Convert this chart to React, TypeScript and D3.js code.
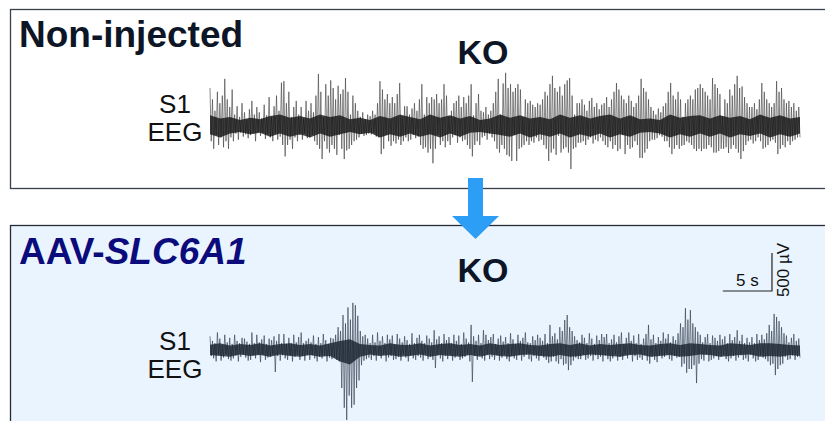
import React from 'react';
import * as d3 from 'd3';

// EEG traces, µV, sampled evenly over the shown recording (alternating peaks / troughs)
const topTrace = [
  500, -200, 350, -300, 200, -120, 450, -250, 300, -150,
  400, -280, 620, -200, 350, -300, 250, -150, 480, -200,
  150, -100, 260, -180, 120, -90, 300, -140, 180, -110,
  90, -160, 220, -120, 330, -100, 150, -200, 250, -80,
  180, -130, 100, -90, 280, -170, 140, -110, 380, -150,
  120, -200, 260, -100, 400, -180, 200, -140, 570, -250,
  590, -400, 300, -250, 450, -180, 120, -300, 250, -150,
  330, -200, 150, -120, 250, -180, 100, -100, 330, -160,
  200, -150, 300, -120, 180, -200, 400, -250, 685, -300,
  450, -435, 120, -200, 550, -300, 400, -350, 600, -250,
  500, -300, 350, -380, 530, -120, 420, -300, 480, -435,
  630, -320, 450, -300, 150, -250, 400, -200, 300, -180,
  200, -150, 120, -100, 180, -130, 90, -120, 150, -100,
  130, -110, 200, -90, 150, -140, 300, -150, 590, -370,
  480, -300, 350, -120, 420, -200, 300, -260, 380, -200,
  300, -230, 420, -180, 565, -250, 130, -200, 260, -150,
  260, -200, 150, -180, 230, -120, 300, -160, 200, -140,
  350, -250, 550, -300, 150, -280, 380, -350, 300, -300,
  380, -490, 350, -300, 420, -120, 300, -250, 350, -200,
  550, -280, 400, -200, 130, -250, 200, -150, 300, -120,
  330, -220, 400, -150, 250, -200, 380, -180, 300, -250,
  400, -300, 550, -400, 140, -250, 300, -200, 420, -250,
  200, -150, 180, -130, 250, -180, 150, -100, 200, -150,
  300, -200, 450, -300, 620, -350, 150, -250, 560, -300,
  700, -380, 500, -400, 550, -460, 450, -120, 500, -460,
  550, -300, 480, -280, 120, -250, 350, -200, 300, -250,
  330, -200, 280, -220, 250, -150, 300, -200, 280, -180,
  350, -250, 450, -300, 400, -460, 550, -350, 660, -300,
  500, -380, 450, -130, 520, -350, 400, -300, 550, -280,
  600, -350, 630, -565, 400, -300, 150, -280, 300, -220,
  300, -220, 350, -200, 280, -250, 200, -180, 330, -150,
  370, -230, 250, -180, 300, -200, 220, -150, 280, -200,
  300, -250, 380, -280, 250, -200, 350, -300, 450, -250,
  565, -330, 480, -300, 400, -120, 350, -370, 300, -250,
  400, -300, 330, -280, 250, -200, 300, -250, 400, -420,
  620, -420, 500, -350, 450, -300, 350, -200, 250, -180,
  200, -180, 150, -160, 230, -120, 180, -140, 260, -200,
  300, -200, 450, -280, 565, -370, 400, -300, 350, -250,
  450, -300, 350, -260, 120, -250, 300, -200, 350, -220,
  400, -250, 350, -300, 480, -330, 500, -300, 550, -330,
  500, -300, 450, -300, 400, -250, 350, -280, 630, -350,
  550, -350, 500, -330, 420, -300, 130, -300, 350, -280,
  300, -355, 480, -300, 400, -250, 550, -300, 660, -350,
  500, -435, 520, -330, 380, -250, 300, -200, 250, -180,
  250, -230, 300, -200, 220, -150, 350, -200, 565, -300,
  450, -280, 350, -250, 300, -200, 250, -180, 300, -220,
  590, -370, 450, -300, 500, -250, 350, -280, 300, -200,
  330, -250, 250, -200, 300, -180, 200, -150, 250, -150,
];

const bottomTrace = [
  180, -80, 120, -110, 90, -150, 230, -60, 150, -140,
  70, -100, 200, -60, 100, -120, 160, -140, 80, -110,
  200, -70, 120, -150, 90, -90, 160, -60, 150, -100,
  110, -140, 80, -130, 230, -70, 90, -110, 200, -60,
  100, -160, 140, -60, 190, -130, 80, -100, 150, -90,
  130, -60, 180, -290, 120, -80, 210, -140, 90, -70,
  210, -110, 80, -130, 160, -70, 90, -150, 200, -90,
  100, -60, 170, -130, 230, -80, 90, -140, 120, -60,
  150, -130, 100, -70, 190, -110, 80, -150, 170, -90,
  90, -110, 210, -70, 130, -150, 80, -100, 160, -120,
  150, -100, 200, -130, 300, -150, 250, -500, 460, -760,
  350, -920, 560, -600, 400, -760, 620, -720, 590, -500,
  450, -400, 250, -200, 180, -140, 200, -120, 150, -100,
  90, -130, 200, -80, 100, -140, 230, -70, 120, -110,
  180, -60, 90, -150, 200, -100, 140, -80, 190, -130,
  70, -120, 210, -90, 150, -140, 100, -60, 180, -100,
  130, -150, 80, -70, 220, -110, 90, -130, 160, -80,
  200, -100, 120, -140, 90, -60, 190, -120, 150, -90,
  100, -130, 260, -235, 140, -70, 180, -110, 90, -150,
  210, -80, 130, -120, 170, -60, 90, -140, 200, -100,
  120, -70, 190, -130, 80, -110, 230, -90, 150, -60,
  100, -150, 330, -420, 180, -80, 120, -130, 200, -70,
  90, -110, 260, -140, 200, -60, 130, -120, 170, -90,
  210, -130, 80, -70, 150, -140, 190, -100, 110, -60,
  170, -120, 90, -150, 220, -80, 140, -110, 80, -130,
  200, -70, 120, -140, 160, -90, 230, -60, 100, -120,
  90, -150, 180, -80, 130, -110, 200, -140, 160, -70,
  120, -100, 210, -130, 90, -170, 330, -150, 180, -90,
  220, -150, 140, -180, 300, -120, 250, -200, 395, -180,
  460, -265, 300, -200, 250, -140, 180, -100, 130, -120,
  100, -120, 200, -60, 160, -130, 90, -110, 220, -80,
  150, -140, 80, -70, 190, -120, 130, -90, 210, -150,
  170, -70, 210, -120, 90, -150, 140, -110, 200, -60,
  100, -140, 180, -90, 230, -130, 80, -60, 160, -110,
  230, -60, 120, -150, 190, -80, 90, -130, 210, -100,
  80, -130, 150, -70, 210, -140, 330, -180, 140, -90,
  200, -130, 90, -160, 170, -70, 120, -110, 230, -90,
  150, -60, 210, -120, 100, -140, 180, -80, 130, -100,
  220, -90, 350, -220, 300, -180, 550, -300, 400, -250,
  525, -250, 350, -200, 300, -435, 240, -180, 200, -120,
  100, -140, 170, -60, 210, -150, 90, -130, 190, -110,
  160, -80, 120, -130, 200, -90, 140, -70, 180, -120,
  90, -150, 210, -110, 130, -80, 170, -140, 260, -100,
  120, -70, 200, -130, 90, -110, 160, -150, 100, -60,
  170, -110, 90, -150, 210, -130, 130, -70, 200, -100,
  140, -120, 220, -150, 330, -200, 250, -180, 475, -330,
  435, -250, 380, -200, 300, -180, 220, -90, 190, -130,
  100, -120, 160, -70, 210, -130, 120, -90, 150, -100,
];

// dense background band of each trace, µV
const topCoreHigh = [
  140, 100, 120, 80, 110, 90, 130, 150, 110, 130,
  100, 150, 120, 140, 90, 110, 80, 130, 100, 150,
  120, 90, 150, 110, 140, 100, 130, 80, 100, 150,
  110, 140, 100, 120, 90, 150, 110, 140, 100, 130,
  150, 100, 140, 90, 100, 80, 150, 110, 130, 140,
  100, 140, 110, 130, 90, 150, 110, 140, 100, 120,
];
const topCoreLow = [
  -110, -150, -100, -80, -110, -90, -140, -100, -140, -110,
  -150, -100, -140, -110, -80, -110, -90, -150, -110, -140,
  -100, -140, -110, -150, -100, -140, -90, -80, -100, -120,
  -140, -100, -150, -110, -140, -100, -150, -110, -140, -100,
  -150, -110, -140, -90, -80, -100, -150, -110, -140, -100,
  -140, -100, -150, -110, -130, -100, -150, -110, -140, -100,
];
const bottomCoreHigh = [
  70, 90, 60, 80, 65, 90, 60, 80, 90, 65,
  80, 60, 90, 120, 140, 80, 65, 60, 90, 70,
  65, 90, 60, 80, 90, 65, 80, 60, 90, 65,
  80, 90, 65, 60, 80, 90, 65, 90, 60, 80,
  65, 80, 90, 65, 60, 80, 90, 65, 90, 80,
  65, 60, 90, 80, 65, 90, 90, 80, 65, 60,
];
const bottomCoreLow = [
  -65, -80, -90, -60, -80, -65, -90, -60, -80, -90,
  -65, -90, -80, -150, -190, -90, -60, -80, -65, -90,
  -80, -60, -90, -65, -80, -90, -65, -90, -60, -80,
  -90, -65, -60, -80, -90, -65, -90, -80, -60, -65,
  -80, -90, -65, -60, -90, -80, -65, -90, -80, -60,
  -65, -90, -80, -65, -60, -90, -80, -90, -65, -80,
];

const duration = 60; // s
const scaleBarTime = 5; // s
const scaleBarVolt = 500; // µV

const W = 825;
const H = 421;
const font = 'Liberation Sans, Arial, Helvetica, sans-serif';
const ink = '#0d1626';

const x = d3.scaleLinear().domain([0, duration]).range([210, 800]);
const yScale = (mid: number) => d3.scaleLinear().domain([-1000, 1000]).range([mid + 76, mid - 76]);

const Trace = ({ values, high, low, y, core, stroke }: any) => {
  const dt = duration / (values.length - 1);
  const dc = duration / (high.length - 1);
  const line = d3.line<number>().x((_, i) => x(i * dt)).y((d) => y(d));
  const band = d3
    .area<number>()
    .x((_, i) => x(i * dc))
    .y0((_, i) => y(low[i]))
    .y1((d) => y(d));
  return (
    <g>
      <path
        d={line(values) || ''}
        fill="none"
        stroke={stroke}
        strokeWidth={0.6}
        strokeLinejoin="round"
      />
      <path d={band(high) || ''} fill={core} opacity={0.75} />
    </g>
  );
};

const Label = ({ y }: { y: number }) => (
  <g fontFamily={font} fontSize={26} fill="#111" textAnchor="middle">
    <text x={175} y={y}>S1</text>
    <text x={175} y={y + 28}>EEG</text>
  </g>
);

export default function App() {
  const yTop = yScale(126);
  const yBot = yScale(350);
  const barX1 = x(duration - 2.85);
  const barX0 = barX1 - (x(scaleBarTime) - x(0));
  const barY = 291;
  const barTop = barY - (yBot(0) - yBot(scaleBarVolt));

  return (
    <svg
      width={W}
      height={H}
      style={{ position: 'absolute', left: 0, top: 0, background: '#fff' }}
    >
      {/* top panel */}
      <rect x={10.5} y={9.5} width={830} height={179} fill="#fff" stroke="#39404c" strokeWidth={1.3} />
      <text x={19} y={47} fontFamily={font} fontSize={37} fontWeight="bold" fill={ink}>
        Non-injected
      </text>
      <text x={483} y={64} fontFamily={font} fontSize={34} fontWeight="bold" fill={ink} textAnchor="middle">
        KO
      </text>
      <Label y={113} />
      <Trace values={topTrace} high={topCoreHigh} low={topCoreLow} y={yTop} core="#0a0a0a" stroke="#3a3a3a" />

      {/* bottom panel */}
      <rect x={10.5} y={225.5} width={830} height={220} fill="#eaf4fe" stroke="#252c38" strokeWidth={1.3} />
      <text x={19} y={264} fontFamily={font} fontSize={37} fontWeight="bold" fill="#0b0b7c">
        <tspan>AAV-</tspan>
        <tspan fontStyle="italic">SLC6A1</tspan>
      </text>
      <text x={483} y={282} fontFamily={font} fontSize={34} fontWeight="bold" fill={ink} textAnchor="middle">
        KO
      </text>
      <Label y={350} />
      <Trace values={bottomTrace} high={bottomCoreHigh} low={bottomCoreLow} y={yBot} core="#0f1a26" stroke="#283444" />

      {/* scale bar */}
      <path
        d={`M${barX0},${barY}H${barX1}V${barTop}`}
        fill="none"
        stroke="#222"
        strokeWidth={1.2}
      />
      <text x={(barX0 + barX1) / 2} y={barY - 5} fontFamily={font} fontSize={17} fill="#111" textAnchor="middle">
        {`${scaleBarTime} s`}
      </text>
      <text
        transform={`translate(789, ${(barY + barTop) / 2 - 2}) rotate(-90)`}
        fontFamily={font}
        fontSize={17}
        fill="#111"
        textAnchor="middle"
      >
        {`${scaleBarVolt} µV`}
      </text>

      {/* arrow */}
      <path d="M468,178H483V216H499L475.5,239L452,216H468Z" fill="#2c9ef5" />
    </svg>
  );
}
